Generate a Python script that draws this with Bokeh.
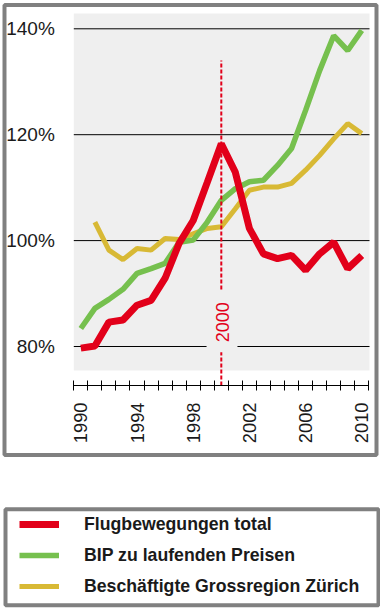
from math import pi
from bokeh.plotting import figure
from bokeh.models import (Range1d, FixedTicker, PrintfTickFormatter, LinearAxis,
                          Legend, LegendItem)
from bokeh.core.properties import value
from bokeh.embed import file_html
from bokeh.resources import INLINE

# ---- data ----
years = list(range(1990, 2011))
flugbewegungen = [79.7, 80.1, 84.6, 85.0, 87.8, 88.7, 92.9, 99.5, 103.8, 111.0, 118.3,
                  112.9, 102.3, 97.5, 96.6, 97.2, 94.4, 97.5, 99.7, 94.7, 97.2]
bip = [83.4, 87.2, 88.9, 90.8, 93.8, 94.7, 95.7, 99.7, 100.1, 103.5, 107.6,
       109.8, 111.1, 111.4, 114.2, 117.4, 124.6, 132.1, 138.7, 135.9, 139.7]
beschaeftigte = [float("nan"), 103.5, 98.2, 96.4, 98.5, 98.2, 100.4, 100.2, 101.3, 102.3, 102.6,
                 106.0, 109.5, 110.1, 110.1, 110.8, 113.3, 116.1, 119.2, 122.1, 120.2]
y_ticks = [80, 100, 120, 140]
x_label_years = [1990, 1994, 1998, 2002, 2006, 2010]
marker_year = 2000
marker_label = "2000"
series_names = ["Flugbewegungen total", "BIP zu laufenden Preisen",
                "Beschäftigte Grossregion Zürich"]

# ---- styles ----
RED = "#e2001a"
GREEN = "#76c04e"
YELLOW = "#d8b935"
BG = "#efefef"
FRAME = "#808080"
TXT = "#1a1a1a"
FONT = "Liberation Sans"

W, H = 380, 610
# pixel layout of the plot area inside the canvas
PX_L, PX_R = 73.3, 368.3        # x of 1989.5 and 2010.5
X_LO, X_HI = 1989.5, 2010.5
K = (X_HI - X_LO) / (PX_R - PX_L)
Y_PX100, Y_SCALE = 240.1, 5.295  # canvas y of 100 %, px per %
def yval(py):
    return 100 + (Y_PX100 - py) / Y_SCALE

Y_AXIS = yval(385)      # where the x axis sits
Y_TOP = yval(13)        # top of grey area
Y_BGBOT = yval(370)     # bottom of grey area

p = figure(width=W, height=H, output_backend="svg", toolbar_location=None,
           x_range=Range1d(X_LO - PX_L * K, X_HI + (W - PX_R) * K),
           y_range=Range1d(yval(H), yval(0)),
           x_axis_location=None, y_axis_location=None,
           min_border_left=0, min_border_right=0, min_border_top=0, min_border_bottom=0)
p.extra_x_ranges = {"px": Range1d(0, W)}
p.extra_y_ranges = {"px": Range1d(H, 0)}
p.background_fill_color = "white"
p.border_fill_color = "white"
p.outline_line_color = None
p.xgrid.visible = False
p.ygrid.visible = False

# frames (canvas pixel coordinates)
p.quad(left=[4], right=[376], top=[4.5], bottom=[454.5], fill_color=None,
       line_color=FRAME, line_width=4, x_range_name="px", y_range_name="px")
p.quad(left=[5], right=[378], top=[508.7], bottom=[604.7], fill_color=None,
       line_color=FRAME, line_width=4, x_range_name="px", y_range_name="px")

# grey plot background
p.quad(left=[X_LO], right=[X_LO + (369 - PX_L) * K], bottom=[Y_BGBOT], top=[Y_TOP],
       fill_color=BG, line_color=None)
# horizontal grid lines
p.segment(x0=[X_LO] * len(y_ticks), x1=[X_LO + (369 - PX_L) * K] * len(y_ticks),
          y0=y_ticks, y1=y_ticks, line_color="black", line_width=1)

# axes
yax = LinearAxis(fixed_location=X_LO, ticker=FixedTicker(ticks=y_ticks),
                 formatter=PrintfTickFormatter(format="%d%%"))
yax.axis_line_color = None
yax.major_tick_line_color = None
yax.minor_tick_line_color = None
yax.major_label_standoff = 13
yax.major_label_text_font = FONT
yax.major_label_text_font_size = "19px"
yax.major_label_text_color = TXT
p.add_layout(yax, "left")

xax = LinearAxis(fixed_location=Y_AXIS, bounds=(X_LO, X_HI),
                 ticker=FixedTicker(ticks=x_label_years,
                                    minor_ticks=[y - 0.5 for y in years] + [years[-1] + 0.5]))
xax.axis_line_color = "black"
xax.axis_line_width = 1
xax.major_tick_in = 0
xax.major_tick_out = 0
xax.minor_tick_in = 5
xax.minor_tick_out = 5
xax.minor_tick_line_color = "black"
xax.major_label_orientation = pi / 2
xax.major_label_standoff = 12
xax.major_label_text_font = FONT
xax.major_label_text_font_size = "18.3px"
xax.major_label_text_color = TXT
p.add_layout(xax, "below")

# data lines
r_y = p.line(years, beschaeftigte, line_color=YELLOW, line_width=5)
r_g = p.line(years, bip, line_color=GREEN, line_width=5.5)
r_r = p.line(years, flugbewegungen, line_color=RED, line_width=7)

# marker line for the year 2000
p.segment(x0=[marker_year], y0=[Y_AXIS], x1=[marker_year], y1=[134.0],
          line_color=RED, line_width=2, line_dash="4 2")
p.quad(left=[marker_year - 1.05], right=[marker_year + 1.15], bottom=[78.9], top=[90.6],
       fill_color=BG, line_color=None)
p.text(x=[marker_year + 0.07], y=[yval(321.7)], text=[marker_label], angle=pi / 2,
       text_align="center", text_baseline="middle", text_color=RED,
       text_font=value(FONT), text_font_size="18px")

legend = Legend(items=[LegendItem(label=series_names[0], renderers=[r_r]),
                       LegendItem(label=series_names[1], renderers=[r_g]),
                       LegendItem(label=series_names[2], renderers=[r_y])],
                location=(19, 12.7), padding=0, margin=0, spacing=9,
                glyph_width=40, glyph_height=22, label_height=22, label_standoff=25,
                label_text_font=FONT, label_text_font_size="17.7px",
                label_text_font_style="bold", label_text_color=TXT,
                border_line_color=None, background_fill_alpha=0)
p.add_layout(legend)

open("out.html", "w").write(file_html(p, INLINE))
